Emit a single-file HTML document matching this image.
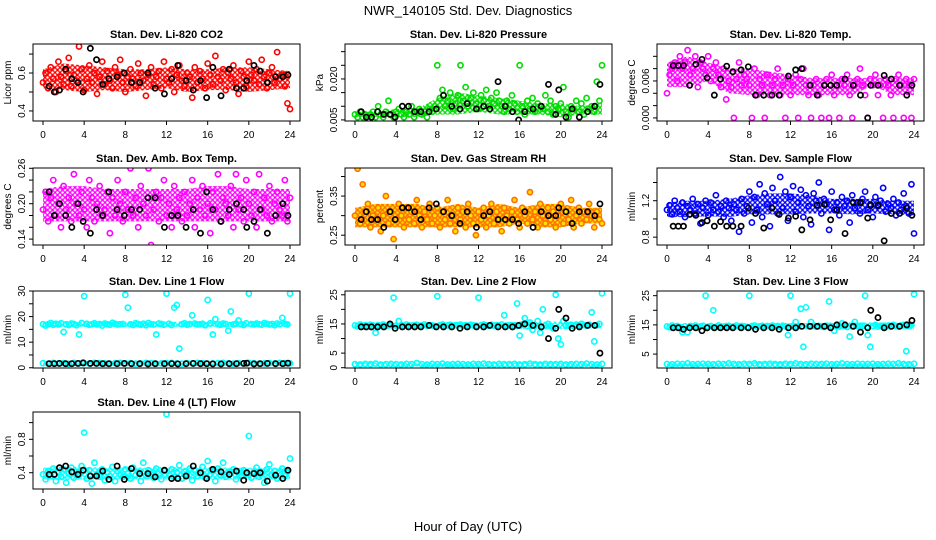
<!DOCTYPE html>
<html><head><meta charset="utf-8"><style>
body{margin:0;background:#fff}
svg{display:block;font-family:"Liberation Sans",sans-serif}
</style></head><body>
<svg id="chart" width="936" height="540" viewBox="0 0 936 540">
<rect width="936" height="540" fill="#fff"/>
<text x="468" y="15" text-anchor="middle" font-size="13">NWR_140105  Std. Dev. Diagnostics</text>
<text x="468" y="531" text-anchor="middle" font-size="13">Hour of Day (UTC)</text>
</svg>
<script>
const xTicks=[0,4,8,12,16,20,24];
const bHours=[0.6,1.1,1.6,2.2,2.8,3.4,3.9,4.6,5.2,5.8,6.4,7.2,7.9,8.6,9.4,10.2,10.9,11.8,12.5,13.1,13.9,14.6,15.3,15.9,16.5,17.3,18.1,18.8,19.5,19.8,20.5,21.1,21.8,22.6,23.3,23.8];
const bandHours=[0,2,4,6,8,10,12,14,16,18,20,22,24];

const co2Vals=[0.55,0.60,0.52,0.63,0.57,0.50,0.66,0.58,0.54,0.61,0.68,0.53,0.59,0.56,0.74,0.62,0.51,0.57,0.64,0.55,0.60,0.49,0.58,0.66,0.54,0.61,0.56,0.52,0.63,0.59,0.67,0.55,0.50,0.58,0.62,0.57,0.53,0.65,0.60,0.56,0.48,0.59,0.63,0.54,0.58,0.61,0.52,0.66,0.57,0.55,0.62,0.50,0.59,0.64,0.56,0.53,0.60,0.58,0.47,0.63,0.55,0.61,0.57,0.52,0.65,0.59,0.54,0.69,0.58,0.56,0.62,0.51,0.60,0.57,0.64,0.55,0.49,0.61,0.58,0.53,0.66,0.59,0.56,0.62,0.54,0.67,0.58,0.52,0.60,0.63,0.55,0.71,0.57,0.59,0.53,0.44,0.41];
const co2Black=[0.53,0.50,0.51,0.62,0.57,0.55,0.50,0.73,0.67,0.54,0.57,0.58,0.60,0.55,0.55,0.60,0.52,0.49,0.57,0.64,0.56,0.51,0.56,0.47,0.63,0.48,0.62,0.52,0.52,0.56,0.64,0.61,0.55,0.58,0.58,0.59];
const co2BandLo=[0.52,0.51,0.50,0.51,0.50,0.51,0.52,0.50,0.51,0.51,0.50,0.51,0.52];
const co2BandHi=[0.62,0.65,0.64,0.63,0.62,0.62,0.63,0.62,0.62,0.63,0.63,0.62,0.61];

const presVals=[0.007,0.006,0.008,0.006,0.007,0.005,0.007,0.008,0.006,0.010,0.007,0.006,0.008,0.012,0.007,0.006,0.008,0.009,0.007,0.006,0.008,0.007,0.010,0.006,0.008,0.009,0.007,0.008,0.006,0.009,0.008,0.010,0.025,0.013,0.016,0.010,0.012,0.015,0.009,0.011,0.014,0.025,0.012,0.017,0.010,0.013,0.015,0.011,0.009,0.014,0.012,0.016,0.010,0.013,0.011,0.015,0.012,0.010,0.008,0.012,0.009,0.014,0.011,0.008,0.025,0.010,0.007,0.012,0.009,0.013,0.008,0.011,0.010,0.009,0.014,0.008,0.012,0.007,0.010,0.009,0.011,0.017,0.008,0.006,0.010,0.009,0.012,0.008,0.011,0.007,0.013,0.009,0.010,0.008,0.019,0.012,0.025];
const presBlack=[0.008,0.006,0.006,0.008,0.007,0.007,0.006,0.010,0.010,0.008,0.008,0.008,0.009,0.014,0.010,0.009,0.011,0.009,0.010,0.009,0.019,0.010,0.008,0.005,0.008,0.009,0.010,0.018,0.007,0.016,0.006,0.009,0.006,0.008,0.010,0.018];
const presBandLo=[0.006,0.006,0.006,0.006,0.007,0.007,0.008,0.007,0.007,0.007,0.006,0.007,0.007];
const presBandHi=[0.008,0.008,0.009,0.009,0.013,0.015,0.014,0.013,0.012,0.011,0.011,0.010,0.011];

const tempVals=[0.004,0.007,0.008,0.009,0.006,0.010,0.008,0.009,0.011,0.007,0.008,0.010,0.005,0.009,0.008,0.007,0.010,0.006,0.008,0.009,0.007,0.005,0.008,0.003,0.006,0.005,0.000,0.0063,0.009,0.0053,0.007,0.0063,0.0053,0.000,0.008,0.0037,0.0063,0.0053,0.000,0.007,0.0037,0.0053,0.0063,0.008,0.0037,0.0053,0.000,0.0063,0.0037,0.0053,0.007,0.000,0.0063,0.008,0.0053,0.0037,0.000,0.0053,0.0063,0.0037,0.000,0.0053,0.0063,0.000,0.007,0.0037,0.0053,0.000,0.0063,0.0053,0.007,0.0037,0.000,0.0053,0.0063,0.008,0.0053,0.0037,0.000,0.0063,0.0053,0.007,0.0037,0.0053,0.000,0.0063,0.0053,0.0037,0.000,0.0063,0.007,0.0053,0.000,0.0063,0.0053,0.000,0.0063];
const tempBlack=[0.0085,0.0085,0.0085,0.0053,0.0087,0.0095,0.0065,0.0037,0.0063,0.0084,0.0075,0.0078,0.0083,0.0037,0.0037,0.0037,0.0037,0.0068,0.0078,0.0080,0.0053,0.0037,0.0053,0.0053,0.0053,0.0063,0.0053,0.0037,0.0000,0.0053,0.0053,0.0069,0.0063,0.0053,0.0037,0.0053];
const tempBandLo=[0.005,0.005,0.006,0.004,0.0037,0.0037,0.0037,0.0037,0.0037,0.0037,0.0053,0.0037,0.0037];
const tempBandHi=[0.009,0.010,0.009,0.008,0.008,0.0075,0.007,0.0065,0.0065,0.0065,0.0065,0.0065,0.0065];

const ambVals=[0.19,0.22,0.17,0.21,0.24,0.18,0.20,0.16,0.23,0.19,0.21,0.17,0.25,0.20,0.18,0.22,0.19,0.16,0.24,0.21,0.17,0.20,0.23,0.18,0.19,0.22,0.15,0.21,0.18,0.24,0.20,0.17,0.22,0.19,0.26,0.18,0.21,0.16,0.23,0.20,0.18,0.26,0.13,0.19,0.22,0.17,0.21,0.24,0.18,0.20,0.16,0.23,0.19,0.21,0.17,0.22,0.18,0.20,0.24,0.16,0.21,0.19,0.23,0.18,0.20,0.15,0.22,0.19,0.25,0.17,0.21,0.20,0.18,0.23,0.16,0.25,0.19,0.21,0.17,0.24,0.20,0.18,0.22,0.16,0.25,0.19,0.21,0.18,0.23,0.17,0.20,0.22,0.19,0.18,0.24,0.17,0.21];
const ambBlack=[0.22,0.18,0.20,0.18,0.16,0.20,0.17,0.15,0.19,0.18,0.22,0.19,0.18,0.19,0.19,0.21,0.21,0.16,0.18,0.18,0.16,0.19,0.15,0.22,0.19,0.17,0.19,0.20,0.19,0.16,0.17,0.19,0.15,0.18,0.20,0.18];
const ambBandLo=[0.17,0.17,0.17,0.17,0.17,0.17,0.17,0.17,0.17,0.17,0.17,0.17,0.17];
const ambBandHi=[0.225,0.23,0.23,0.225,0.225,0.225,0.225,0.225,0.23,0.23,0.225,0.225,0.225];

const rhVals=[0.30,0.42,0.28,0.38,0.31,0.33,0.27,0.30,0.29,0.32,0.26,0.30,0.35,0.28,0.31,0.24,0.29,0.33,0.30,0.27,0.32,0.29,0.31,0.28,0.34,0.30,0.27,0.31,0.29,0.33,0.28,0.30,0.32,0.27,0.31,0.29,0.34,0.28,0.30,0.26,0.32,0.29,0.31,0.27,0.33,0.30,0.28,0.25,0.31,0.29,0.32,0.27,0.30,0.33,0.28,0.31,0.29,0.26,0.32,0.30,0.28,0.31,0.34,0.29,0.27,0.32,0.30,0.28,0.36,0.29,0.31,0.27,0.33,0.30,0.28,0.32,0.29,0.31,0.27,0.30,0.33,0.28,0.31,0.29,0.34,0.27,0.30,0.32,0.28,0.31,0.29,0.33,0.30,0.27,0.31,0.29,0.28];
const rhBlack=[0.29,0.31,0.29,0.29,0.27,0.31,0.29,0.32,0.32,0.31,0.29,0.32,0.33,0.31,0.30,0.28,0.31,0.27,0.30,0.31,0.29,0.29,0.29,0.28,0.31,0.27,0.31,0.30,0.30,0.32,0.31,0.28,0.31,0.31,0.30,0.33];
const rhBandLo=[0.27,0.27,0.27,0.27,0.27,0.27,0.27,0.27,0.28,0.27,0.27,0.28,0.28];
const rhBandHi=[0.32,0.33,0.33,0.33,0.32,0.33,0.32,0.33,0.32,0.33,0.33,0.32,0.32];

const flowVals=[1.10,1.15,1.05,1.20,1.12,1.08,1.18,1.02,1.14,1.10,1.22,1.06,1.16,0.95,1.12,1.20,1.04,1.18,1.10,1.26,1.08,1.14,1.02,1.20,1.12,0.98,1.16,1.10,0.86,1.22,1.06,1.14,1.30,0.96,1.24,1.10,1.38,1.02,1.28,1.16,0.92,1.34,1.20,1.06,1.46,1.12,1.30,0.98,1.24,1.36,1.08,1.18,1.32,1.02,1.26,1.14,0.94,1.28,1.20,1.40,1.06,1.22,1.16,0.88,1.30,1.10,1.18,1.04,1.24,1.14,1.20,0.96,1.26,1.12,1.18,1.06,1.22,1.30,1.10,1.16,1.02,1.24,1.14,1.20,1.34,1.08,1.16,1.12,1.22,1.04,1.18,1.10,1.28,1.14,1.06,1.38,0.84];
const flowBlack=[0.92,0.92,0.92,1.05,1.04,0.96,0.98,0.92,0.97,0.92,0.92,0.92,1.12,1.06,0.90,1.12,1.05,1.01,1.03,0.88,0.99,1.15,1.16,0.99,1.10,0.84,1.18,1.18,1.01,1.15,1.15,0.76,1.06,1.06,1.12,1.04];
const flowBandLo=[1.02,1.02,1.03,1.02,1.05,1.05,1.05,1.06,1.06,1.05,1.06,1.05,1.04];
const flowBandHi=[1.18,1.20,1.20,1.22,1.26,1.28,1.28,1.26,1.22,1.22,1.22,1.20,1.20];

const l1High=[17,16.5,17,17.5,16.8,17.2,16.9,17.4,14,17,16.7,17.3,17.1,16.6,13,17.5,28,17.2,16.8,17,17.4,16.9,17.1,16.5,17.3,17,16.8,17.6,17.2,16.9,17,17.1,28.5,23.5,17,16.7,17.4,17.1,16.8,17.2,16.6,17.5,17,16.9,13,17.3,17.1,16.8,29,17.2,16.7,23.5,24.5,7.5,17,17.4,16.8,17.1,20.5,17.3,16.9,17,17.2,16.6,26.5,17.4,13,19,17,16.8,17.3,17.1,14.5,22,16.9,17.2,18.5,17,16.7,17.4,29,17.1,16.9,17.3,17,16.8,17.5,17.2,16.9,17.1,16.6,17.3,17,19.5,17.2,16.9,29];
const l1Low=[1.8,1.6,1.9,1.7,1.8,1.5,1.9,1.7,1.8,1.6,1.9,1.8,1.7,1.6,1.8,1.9,1.7,1.8,1.6,1.7,1.9,1.8,1.6,1.7,1.8,1.9,1.7,1.6,1.8,1.7,1.9,1.8,1.6,1.7,1.8,1.9,1.7,1.6,1.8,1.7,1.9,1.8,1.6,1.7,1.8,1.7,1.9,1.8,1.7];
const l1Black=[1.6,1.6,1.7,1.6,1.6,1.7,1.9,1.7,1.7,1.6,1.6,1.6,1.7,1.6,1.6,1.5,1.6,1.6,1.6,1.5,1.6,1.7,1.6,1.6,1.5,1.5,1.6,1.6,1.7,1.8,1.5,1.6,1.7,1.6,1.6,1.8];
const l1BandLo=[16,16,16,16,16,16,16,16,16,16,16,16,16];
const l1BandHi=[18,18,18,18,18,18,18,18,18,18,18,18,18];
const l1LowBandLo=[1.0,1.0,1.0,1.0,1.0,1.0,1.0,1.0,1.0,1.0,1.0,1.0,1.0];
const l1LowBandHi=[2.3,2.3,2.3,2.3,2.3,2.3,2.3,2.3,2.3,2.3,2.3,2.3,2.3];

const l2High=[14.5,14.2,14.8,14.4,14.6,14.3,14.7,14.5,12,14.6,14.4,14.8,14.3,14.5,14.7,24,14.4,16,14.6,14.3,14.8,14.5,14.4,14.6,14.7,14.3,14.5,14.8,14.4,14.6,14.5,14.3,24.5,14.6,14.8,14.4,14.5,14.7,14.3,14.6,14.5,14.8,14.4,14.6,14.3,14.7,14.5,14.4,24,14.6,14.8,14.5,14.3,14.7,14.4,14.6,14.5,14.8,18,14.4,14.6,14.5,14.3,22,11,14.8,17,14.4,15.5,13,14.6,16,12,20,14.5,15,14.3,13.5,25,10,8,16,14.4,14.6,14.7,14.3,14.8,14.5,15,14.6,14.4,14.8,19,9,14.6,15,25.5];
const l2Low=[1.2,1.1,1.3,1.2,1.4,1.1,1.2,1.3,1.2,1.1,1.3,1.2,1.6,1.2,1.1,1.3,1.2,1.4,1.1,1.2,1.3,1.2,1.1,1.3,1.2,1.4,1.2,1.1,1.3,1.2,1.2,1.3,1.1,1.2,1.4,1.2,1.1,1.3,1.2,1.2,1.3,1.1,1.2,1.3,1.2,1.4,1.2,1.1,1.3];
const l2Black=[14,14,14,14,14,15,13.5,14,14,14,14,14.5,14,14,14,13.5,14,14,14,14.5,14,14,14,14.5,15,14.5,14,10,13.5,20,17,13.5,14,14.5,14.5,5];
const l2BandLo=[13.5,13.5,13.5,13.5,13.5,13.5,13.5,13.5,13.2,13.2,13.2,13.5,13.5];
const l2BandHi=[15.3,15.3,15.3,15.3,15.3,15.3,15.3,15.3,15.8,15.8,15.8,15.3,15.3];
const l2LowBandLo=[0.5,0.5,0.5,0.5,0.5,0.5,0.5,0.5,0.5,0.5,0.5,0.5,0.5];
const l2LowBandHi=[1.8,1.8,1.8,1.8,1.8,1.8,1.8,1.8,1.8,1.8,1.8,1.8,1.8];

const l3High=[14.5,14.2,14.8,14.4,14.6,14.3,12.5,14.5,12.5,14.6,14.4,14.8,14.3,14.5,14.7,25,14.4,14.6,20,14.3,14.8,14.5,14.4,14.6,14.7,14.3,14.5,14.8,14.4,14.6,14.5,14.3,25,14.6,14.8,14.4,14.5,14.7,14.3,14.6,14.5,14.8,14.4,14.6,14.3,14.7,14.5,11.5,25,14.6,16,14.5,20.5,7.5,21,14.6,16,14.8,14.4,14.6,14.5,14.3,14.7,23,14.5,13,14.8,14.4,15.5,14.6,14.3,11,14.8,16,14.6,14.5,14.7,25,11.5,7.5,14.6,15,14.4,14.6,14.7,14.3,14.8,14.5,15,14.6,14.4,14.8,15,6,14.6,15,25.5];
const l3Low=[1.6,1.5,1.7,1.6,1.8,1.5,1.6,1.7,1.6,1.5,1.7,1.6,1.8,1.6,1.5,1.7,1.6,1.8,1.5,1.6,1.7,1.6,1.5,1.7,1.6,1.8,1.6,1.5,1.7,1.6,1.6,1.7,1.5,1.6,1.8,1.6,1.5,1.7,1.6,1.6,1.7,1.5,1.6,1.7,1.6,1.8,1.6,1.5,1.7];
const l3Black=[14,14,13.5,14,14,13,14,14,14,14,14,14,14,13.5,14,14,13.5,14,14,14.5,14.5,14.5,14.5,14,15,15,14.5,12.5,14,20,17.5,14,14.5,14.5,15,16.5];
const l3BandLo=[13.5,13.5,13.5,13.5,13.5,13.5,13.5,13.5,13.5,13.5,13.5,13.5,13.5];
const l3BandHi=[15.3,15.3,15.3,15.3,15.3,15.3,15.6,15.6,15.8,15.8,15.8,15.8,15.8];
const l3LowBandLo=[0.9,0.9,0.9,0.9,0.9,0.9,0.9,0.9,0.9,0.9,0.9,0.9,0.9];
const l3LowBandHi=[2.2,2.2,2.2,2.2,2.2,2.2,2.2,2.2,2.2,2.2,2.2,2.2,2.2];

const l4Vals=[0.38,0.32,0.42,0.36,0.45,0.30,0.40,0.35,0.44,0.28,0.39,0.46,0.34,0.41,0.37,0.48,0.88,0.33,0.43,0.27,0.52,0.38,0.35,0.44,0.31,0.40,0.36,0.47,0.30,0.42,0.38,0.35,0.44,0.39,0.33,0.46,0.37,0.41,0.30,0.52,0.36,0.43,0.38,0.34,0.45,0.39,0.32,0.42,1.10,0.37,0.44,0.35,0.40,0.49,0.33,0.41,0.38,0.45,0.31,0.43,0.36,0.40,0.47,0.34,0.54,0.38,0.42,0.30,0.45,0.37,0.52,0.35,0.41,0.39,0.44,0.32,0.40,0.36,0.43,0.38,0.84,0.34,0.41,0.46,0.35,0.39,0.28,0.44,0.50,0.37,0.42,0.33,0.40,0.45,0.36,0.41,0.57];
const l4Black=[0.38,0.38,0.46,0.48,0.41,0.38,0.43,0.36,0.36,0.42,0.32,0.48,0.32,0.45,0.39,0.39,0.35,0.43,0.33,0.33,0.36,0.48,0.40,0.33,0.44,0.41,0.38,0.42,0.31,0.40,0.39,0.40,0.30,0.37,0.33,0.43];
const l4BandLo=[0.32,0.31,0.32,0.32,0.32,0.32,0.32,0.32,0.32,0.32,0.32,0.32,0.32];
const l4BandHi=[0.46,0.47,0.47,0.46,0.47,0.46,0.47,0.46,0.47,0.46,0.46,0.46,0.46];

const panels=[
 {name:'co2',title:'Stan. Dev. Li-820 CO2',ylab:'Licor ppm',col:0,row:0,dom:[0.347,0.753],ticks:[0.4,0.5,0.6,0.7],labels:['0.4','0.6'],color:'#ff0000',fill:'none',series:[co2Vals],bands:[[co2BandLo,co2BandHi]],black:co2Black},
 {name:'pressure',title:'Stan. Dev. Li-820 Pressure',ylab:'kPa',col:1,row:0,dom:[0.0046,0.0328],ticks:[0.005,0.010,0.015,0.020,0.025,0.030],labels:['0.005','0.020'],color:'#00dd00',fill:'none',series:[presVals],bands:[[presBandLo,presBandHi]],black:presBlack},
 {name:'temp',title:'Stan. Dev. Li-820 Temp.',ylab:'degrees C',col:2,row:0,dom:[-0.0005,0.0120],ticks:[0,0.002,0.004,0.006,0.008,0.010],labels:['0.000','0.006'],color:'#ff00ff',fill:'none',series:[tempVals],bands:[[tempBandLo,tempBandHi]],black:tempBlack},
 {name:'amb-temp',title:'Stan. Dev. Amb. Box Temp.',ylab:'degrees C',col:0,row:1,dom:[0.130,0.2605],ticks:[0.14,0.16,0.18,0.20,0.22,0.24,0.26],labels:['0.14','0.20','0.26'],color:'#ff00ff',fill:'none',series:[ambVals],bands:[[ambBandLo,ambBandHi]],black:ambBlack},
 {name:'rh',title:'Stan. Dev. Gas Stream RH',ylab:'percent',col:1,row:1,dom:[0.2249,0.4218],ticks:[0.25,0.30,0.35,0.40],labels:['0.25','0.35'],color:'#ff7000',fill:'#ffe000',series:[rhVals],bands:[[rhBandLo,rhBandHi]],black:rhBlack},
 {name:'sample-flow',title:'Stan. Dev. Sample Flow',ylab:'ml/min',col:2,row:1,dom:[0.714,1.559],ticks:[0.8,1.0,1.2,1.4],labels:['0.8','1.2'],color:'#0000ff',fill:'none',series:[flowVals],bands:[[flowBandLo,flowBandHi]],black:flowBlack},
 {name:'line1',title:'Stan. Dev. Line 1 Flow',ylab:'ml/min',col:0,row:2,dom:[-0.1,30.0],ticks:[0,5,10,15,20,25,30],labels:['0','10','20','30'],color:'#00ffff',fill:'none',series:[l1High,l1Low],bands:[[l1BandLo,l1BandHi],[l1LowBandLo,l1LowBandHi]],black:l1Black},
 {name:'line2',title:'Stan. Dev. Line 2 Flow',ylab:'ml/min',col:1,row:2,dom:[-0.1,26.3],ticks:[0,5,10,15,20,25],labels:['0','5','15','25'],color:'#00ffff',fill:'none',series:[l2High,l2Low],bands:[[l2BandLo,l2BandHi],[l2LowBandLo,l2LowBandHi]],black:l2Black},
 {name:'line3',title:'Stan. Dev. Line 3 Flow',ylab:'ml/min',col:2,row:2,dom:[0.24,26.6],ticks:[5,10,15,20,25],labels:['5','15','25'],color:'#00ffff',fill:'none',series:[l3High,l3Low],bands:[[l3BandLo,l3BandHi],[l3LowBandLo,l3LowBandHi]],black:l3Black},
 {name:'line4',title:'Stan. Dev. Line 4 (LT) Flow',ylab:'ml/min',col:0,row:3,dom:[0.205,1.127],ticks:[0.4,0.6,0.8,1.0],labels:['0.4','0.8'],color:'#00ffff',fill:'none',series:[l4Vals],bands:[[l4BandLo,l4BandHi]],black:l4Black}
];

const NS='http://www.w3.org/2000/svg';
const svg=document.getElementById('chart');
const rowTops=[44,168,291,412], colLefts=[33,345,657], W=267, H=77;
function mk(tag,attrs,parent){const e=document.createElementNS(NS,tag);for(const k in attrs)e.setAttribute(k,attrs[k]);parent.appendChild(e);return e;}
const defs=mk('defs',{},svg);

panels.forEach(p=>{
  const L=colLefts[p.col], T=rowTops[p.row], B=T+H;
  const g=mk('g',{},svg);
  
  
  const xs=h=>L+10+h*247/24;
  const ys=v=>B-(v-p.dom[0])/(p.dom[1]-p.dom[0])*H;
  const pat=mk('pattern',{id:'pat-'+p.name,width:5,height:5,patternUnits:'userSpaceOnUse'},defs);
  mk('rect',{width:5,height:5,fill:p.fill==='none'?'#fff':p.fill},pat);
  mk('circle',{cx:2.5,cy:2.5,r:1.9,fill:'none',stroke:p.color,'stroke-width':1.3},pat);
  const clip='clip-'+p.name;
  const cp=mk('clipPath',{id:clip},g); mk('rect',{x:L,y:T,width:W,height:H},cp);
  const pts=mk('g',{'clip-path':'url(#'+clip+')'},g);
  p.bands.forEach(([lo,hi])=>{
    const up=hi.map((v,i)=>xs(bandHours[i])+','+ys(v));
    const dn=lo.map((v,i)=>xs(bandHours[i])+','+ys(v)).reverse();
    const poly=mk('polygon',{points:up.concat(dn).join(' '),fill:'url(#pat-'+p.name+')',stroke:'none'},pts);
    
    
  });
  p.series.forEach(arr=>{
    arr.forEach((v,i)=>{
      const c=mk('circle',{cx:xs(i*24/(arr.length-1)),cy:ys(v),r:2.6,fill:p.fill,stroke:p.color,'stroke-width':1.6},pts);
      
      
    });
  });
  p.black.forEach((v,i)=>{
    const c=mk('circle',{cx:xs(bHours[i]),cy:ys(v),r:2.6,fill:'none',stroke:'#000','stroke-width':1.7},pts);
    
    
  });
  const box=mk('rect',{x:L,y:T,width:W,height:H,fill:'none',stroke:'#000','stroke-width':1},g);
  
  
  const t=mk('text',{x:L+W/2,y:T-6,'text-anchor':'middle','font-size':11,'font-weight':'bold'},g);
  t.textContent=p.title;
  
  
  mk('line',{x1:xs(0),x2:xs(24),y1:B,y2:B,stroke:'#000'},g);
  xTicks.forEach(h=>{
    mk('line',{x1:xs(h),x2:xs(h),y1:B,y2:B+4,stroke:'#000'},g);
    const tx=mk('text',{x:xs(h),y:B+17,'text-anchor':'middle','font-size':10},g);
    tx.textContent=h;
    
    
  });
  p.ticks.forEach(v=>{
    mk('line',{x1:L-4,x2:L,y1:ys(v),y2:ys(v),stroke:'#000'},g);
  });
  p.labels.forEach(s=>{
    const v=parseFloat(s);
    const ty=mk('text',{x:0,y:0,'text-anchor':'middle','font-size':10,transform:`translate(${L-8},${ys(v)}) rotate(-90)`},g);
    ty.textContent=s;
    
    
  });
  const yl=mk('text',{x:0,y:0,'text-anchor':'middle','font-size':10,transform:`translate(${L-22},${T+H/2}) rotate(-90)`},g);
  yl.textContent=p.ylab;
  
  
});
</script>
</body></html>
